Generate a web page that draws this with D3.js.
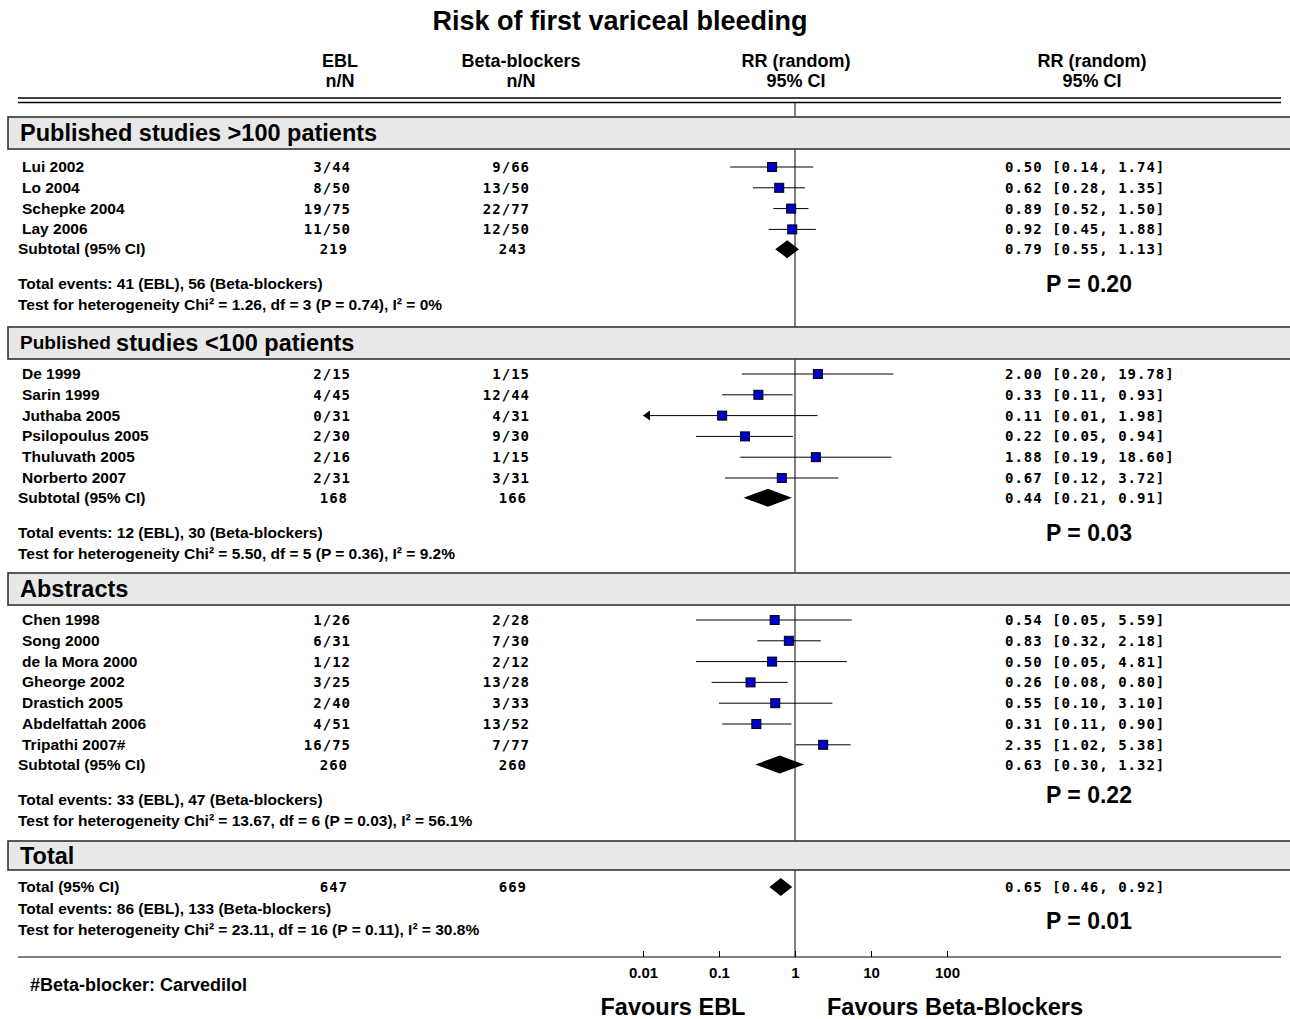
<!DOCTYPE html>
<html>
<head>
<meta charset="utf-8">
<title>Risk of first variceal bleeding</title>
<script src="https://cdn.jsdelivr.net/npm/d3@7/dist/d3.min.js"></script>
<style>
  body { margin: 0; background: #fff; }
  svg text { font-family: "Liberation Sans", Arial, sans-serif; font-weight: bold; fill: #000; }
  svg text.mono { font-family: "DejaVu Sans Mono", "Liberation Mono", monospace; font-size: 14px; letter-spacing: 1px; }
</style>
</head>
<body>
<script>
// ---- data ----
var sectionTitles = ["Published studies >100 patients", "Published studies <100 patients", "Abstracts"];
var studyNames = ["Lui 2002", "Lo 2004", "Schepke 2004", "Lay 2006",
  "De 1999", "Sarin 1999", "Juthaba 2005", "Psilopoulus 2005", "Thuluvath 2005", "Norberto 2007",
  "Chen 1998", "Song 2000", "de la Mora 2000", "Gheorge 2002", "Drastich 2005", "Abdelfattah 2006", "Tripathi 2007#"];
var studySection = [0, 0, 0, 0, 1, 1, 1, 1, 1, 1, 2, 2, 2, 2, 2, 2, 2];
var eblNN = ["3/44", "8/50", "19/75", "11/50", "2/15", "4/45", "0/31", "2/30", "2/16", "2/31",
  "1/26", "6/31", "1/12", "3/25", "2/40", "4/51", "16/75"];
var bbNN = ["9/66", "13/50", "22/77", "12/50", "1/15", "12/44", "4/31", "9/30", "1/15", "3/31",
  "2/28", "7/30", "2/12", "13/28", "3/33", "13/52", "7/77"];
var rr = [0.50, 0.62, 0.89, 0.92, 2.00, 0.33, 0.11, 0.22, 1.88, 0.67, 0.54, 0.83, 0.50, 0.26, 0.55, 0.31, 2.35];
var rrLow = [0.14, 0.28, 0.52, 0.45, 0.20, 0.11, 0.01, 0.05, 0.19, 0.12, 0.05, 0.32, 0.05, 0.08, 0.10, 0.11, 1.02];
var rrHigh = [1.74, 1.35, 1.50, 1.88, 19.78, 0.93, 1.98, 0.94, 18.60, 3.72, 5.59, 2.18, 4.81, 0.80, 3.10, 0.90, 5.38];

var subEbl = [219, 168, 260];
var subBb = [243, 166, 260];
var subRR = [0.79, 0.44, 0.63];
var subLow = [0.55, 0.21, 0.30];
var subHigh = [1.13, 0.91, 1.32];
var subEvents = ["41 (EBL), 56 (Beta-blockers)", "12 (EBL), 30 (Beta-blockers)", "33 (EBL), 47 (Beta-blockers)"];
var subHet = ["Chi\u00b2 = 1.26, df = 3 (P = 0.74), I\u00b2 = 0%", "Chi\u00b2 = 5.50, df = 5 (P = 0.36), I\u00b2 = 9.2%",
  "Chi\u00b2 = 13.67, df = 6 (P = 0.03), I\u00b2 = 56.1%"];
var subP = ["0.20", "0.03", "0.22"];

var totalEbl = 647, totalBb = 669;
var totalRR = 0.65, totalLow = 0.46, totalHigh = 0.92;
var totalEvents = "86 (EBL), 133 (Beta-blockers)";
var totalHet = "Chi\u00b2 = 23.11, df = 16 (P = 0.11), I\u00b2 = 30.8%";
var totalP = "0.01";

var axisTicks = [0.01, 0.1, 1, 10, 100];

// ---- layout ----
var width = 1290, height = 1019;
var svg = d3.select("body").append("svg").attr("width", width).attr("height", height);

var x = d3.scaleLog().domain([0.01, 100]).range([643, 947]);
var step = 20.8;
var boxTop = [117, 327, 573, 841];
var rowStart = [167, 374, 620];
var colEbl = 351, colBb = 530, colCI = 1005, colP = 1089;

function f2(v) { return d3.format(".2f")(v); }
function ciText(a, b, c) { return f2(a) + " [" + f2(b) + ", " + f2(c) + "]"; }

// vertical line of no effect (drawn first, boxes cover it)
svg.append("line").attr("x1", x(1)).attr("x2", x(1)).attr("y1", 102).attr("y2", 957)
  .attr("stroke", "#000").attr("stroke-width", 1);

// title + headers
svg.append("text").attr("x", 620).attr("y", 30).attr("text-anchor", "middle")
  .style("font-size", "27px").text("Risk of first variceal bleeding");

var heads = [[340, "EBL", "n/N"], [521, "Beta-blockers", "n/N"], [796, "RR (random)", "95% CI"], [1092, "RR (random)", "95% CI"]];
heads.forEach(function(h) {
  svg.append("text").attr("x", h[0]).attr("y", 67).attr("text-anchor", "middle").style("font-size", "18px").text(h[1]);
  svg.append("text").attr("x", h[0]).attr("y", 87).attr("text-anchor", "middle").style("font-size", "18px").text(h[2]);
});
[98, 102.5].forEach(function(yy) {
  svg.append("line").attr("x1", 18).attr("x2", 1281).attr("y1", yy).attr("y2", yy)
    .attr("stroke", "#000").attr("stroke-width", 1.3);
});

// section header boxes
function headerBox(top, h) {
  svg.append("rect").attr("x", 8).attr("y", top).attr("width", 1300).attr("height", h)
    .attr("fill", "#e8e8e8").attr("stroke", "#333").attr("stroke-width", 1.6);
}
sectionTitles.forEach(function(t, i) {
  headerBox(boxTop[i], 32);
  var tx = svg.append("text").attr("x", 20).attr("y", boxTop[i] + 24).style("font-size", "23.5px");
  if (i === 1) {
    tx.append("tspan").style("font-size", "19px").attr("dy", -2).text("Published ");
    tx.append("tspan").attr("dy", 2).text(" studies <100 patients");
  } else {
    tx.text(t);
  }
});
headerBox(boxTop[3], 29);
svg.append("text").attr("x", 20).attr("y", boxTop[3] + 23).style("font-size", "23.5px").text("Total");

// study rows
var rows = studyNames.map(function(n, i) {
  var s = studySection[i];
  var k = studySection.slice(0, i).filter(function(v) { return v === s; }).length;
  return { name: n, ebl: eblNN[i], bb: bbNN[i], rr: rr[i], lo: rrLow[i], hi: rrHigh[i], y: rowStart[s] + k * step };
});

var g = svg.append("g");
var row = g.selectAll("g.row").data(rows).enter().append("g").attr("class", "row");
row.append("text").attr("x", 22).attr("y", function(d) { return d.y + 5; }).style("font-size", "15.5px").text(function(d) { return d.name; });
row.append("text").attr("class", "mono").attr("x", colEbl).attr("y", function(d) { return d.y + 5; })
  .attr("text-anchor", "end").text(function(d) { return d.ebl; });
row.append("text").attr("class", "mono").attr("x", colBb).attr("y", function(d) { return d.y + 5; })
  .attr("text-anchor", "end").text(function(d) { return d.bb; });
row.append("text").attr("class", "mono").attr("x", colCI).attr("y", function(d) { return d.y + 5; })
  .text(function(d) { return ciText(d.rr, d.lo, d.hi); });
row.append("line")
  .attr("x1", function(d) { return x(Math.max(d.lo, 0.01)); })
  .attr("x2", function(d) { return x(Math.min(d.hi, 100)); })
  .attr("y1", function(d) { return d.y; }).attr("y2", function(d) { return d.y; })
  .attr("stroke", "#000").attr("stroke-width", 1);
row.filter(function(d) { return d.lo <= 0.01; }).append("path")
  .attr("d", function(d) { var x0 = x(0.01); return "M" + x0 + "," + d.y + "l7,-5v10z"; })
  .attr("fill", "#000");
row.append("rect")
  .attr("x", function(d) { return x(d.rr) - 4.5; }).attr("y", function(d) { return d.y - 4.5; })
  .attr("width", 9).attr("height", 9)
  .attr("fill", "#0000cc").attr("stroke", "#000").attr("stroke-width", 1);

function diamond(est, lo, hi, y) {
  svg.append("path")
    .attr("d", "M" + x(lo) + "," + y + "L" + x(est) + "," + (y - 9) + "L" + x(hi) + "," + y + "L" + x(est) + "," + (y + 9) + "Z")
    .attr("fill", "#000");
}

// subtotals
sectionTitles.forEach(function(t, i) {
  var n = studySection.filter(function(v) { return v === i; }).length;
  var ys = rowStart[i] + n * step - 1;
  svg.append("text").attr("x", 18).attr("y", ys + 5).style("font-size", "15.5px").text("Subtotal (95% CI)");
  svg.append("text").attr("class", "mono").attr("x", colEbl - 3).attr("y", ys + 5).attr("text-anchor", "end").text(subEbl[i]);
  svg.append("text").attr("class", "mono").attr("x", colBb - 3).attr("y", ys + 5).attr("text-anchor", "end").text(subBb[i]);
  svg.append("text").attr("class", "mono").attr("x", colCI).attr("y", ys + 5).text(ciText(subRR[i], subLow[i], subHigh[i]));
  diamond(subRR[i], subLow[i], subHigh[i], ys);
  svg.append("text").attr("x", 18).attr("y", ys + 40).style("font-size", "15.5px").text("Total events: " + subEvents[i]);
  svg.append("text").attr("x", 18).attr("y", ys + 61).style("font-size", "15.5px").text("Test for heterogeneity " + subHet[i]);
  svg.append("text").attr("x", colP).attr("y", ys + (i === 2 ? 38 : 43)).attr("text-anchor", "middle")
    .style("font-size", "23px").text("P = " + subP[i]);
});

// overall total
var yt = 887;
svg.append("text").attr("x", 18).attr("y", yt + 5).style("font-size", "15.5px").text("Total (95% CI)");
svg.append("text").attr("class", "mono").attr("x", colEbl - 3).attr("y", yt + 5).attr("text-anchor", "end").text(totalEbl);
svg.append("text").attr("class", "mono").attr("x", colBb - 3).attr("y", yt + 5).attr("text-anchor", "end").text(totalBb);
svg.append("text").attr("class", "mono").attr("x", colCI).attr("y", yt + 5).text(ciText(totalRR, totalLow, totalHigh));
diamond(totalRR, totalLow, totalHigh, yt);
svg.append("text").attr("x", 18).attr("y", yt + 27).style("font-size", "15.5px").text("Total events: " + totalEvents);
svg.append("text").attr("x", 18).attr("y", yt + 48).style("font-size", "15.5px").text("Test for heterogeneity " + totalHet);
svg.append("text").attr("x", colP).attr("y", yt + 42).attr("text-anchor", "middle").style("font-size", "23px").text("P = " + totalP);

// axis
svg.append("line").attr("x1", 18).attr("x2", 1281).attr("y1", 957).attr("y2", 957).attr("stroke", "#000").attr("stroke-width", 1.2);
var axis = d3.axisTop(x).tickValues(axisTicks).tickSize(6).tickFormat(function(d) { return String(d); });
var ax = svg.append("g").attr("transform", "translate(0,957)").call(axis);
ax.select(".domain").remove();
ax.selectAll(".tick text").attr("y", 21).attr("dy", 0).style("font-size", "15px")
  .style("font-family", "'Liberation Sans', Arial, sans-serif").style("font-weight", "bold");

svg.append("text").attr("x", 30).attr("y", 991).style("font-size", "18px").text("#Beta-blocker: Carvedilol");
svg.append("text").attr("x", 673).attr("y", 1015).attr("text-anchor", "middle").style("font-size", "23.5px").text("Favours EBL");
svg.append("text").attr("x", 955).attr("y", 1015).attr("text-anchor", "middle").style("font-size", "23.5px").text("Favours Beta-Blockers");
</script>
</body>
</html>
